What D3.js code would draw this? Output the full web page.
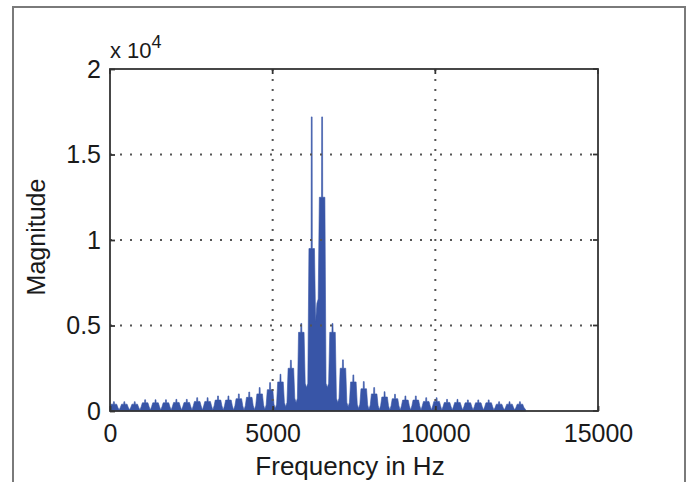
<!DOCTYPE html>
<html><head><meta charset="utf-8">
<script src="https://cdn.jsdelivr.net/npm/d3@7"></script>
<style>
body{margin:0;background:#fff}
text{font-family:"Liberation Sans",Arial,sans-serif;fill:#1a1a1a}
</style>
</head><body><svg id="c" width="693" height="482"></svg>
<script>
// ---- data ----
const lobeFreqs = [120,440,760,1080,1400,1720,2040,2360,2680,3000,3320,3640,3960,4280,4600,4920,5240,5560,5880,6200,
                   6520,6840,7160,7480,7800,8120,8440,8760,9080,9400,9720,10040,10360,10680,11000,11320,11640,11960,12280,12600];
const lobePeaks = [545,545,545,660,660,660,680,680,780,780,880,880,1000,1110,1370,1660,2150,2970,5120,17200,
                   17200,5120,2990,2110,1720,1370,1130,980,880,880,780,780,680,680,650,650,650,545,545,545];
const lobeBodies = [400,400,400,480,480,480,500,500,560,560,640,640,720,800,1000,1250,1700,2500,4600,9500,
                    12500,4600,2500,1700,1300,1000,820,720,640,640,560,560,500,500,480,480,480,400,400,400];
const valleyFreqs = [0,280,600,920,1240,1560,1880,2200,2520,2840,3160,3480,3800,4120,4440,4760,5080,5400,5720,6040,6360,
                     6680,7000,7320,7640,7960,8280,8600,8920,9240,9560,9880,10200,10520,10840,11160,11480,11800,12120,12440,12780];
const valleyLevels = [60,60,60,60,60,60,60,60,60,60,60,60,60,60,80,100,150,250,500,1370,6300,
                      1370,500,250,150,100,80,60,60,60,60,60,60,60,60,60,60,60,60,60,60];
const xTicks = [0,5000,10000,15000];
const xTickLabels = ["0","5000","10000","15000"];
const yTicks = [0,5000,10000,15000,20000];
const yTickLabels = ["0","0.5","1","1.5","2"];
const gridX = [5000,10000];
const gridY = [5000,10000,15000];
const xTitle = "Frequency in Hz";
const yTitle = "Magnitude";
const expBase = "x 10", expPower = "4";

// ---- layout ----
const svg = d3.select("#c");
const L = 110, R = 598, T = 69, B = 411;
const x = d3.scaleLinear().domain([0,15000]).range([L,R]);
const y = d3.scaleLinear().domain([0,20000]).range([B,T]);

// outer figure frame
svg.append("rect").attr("x",13).attr("y",7).attr("width",672).attr("height",500)
  .attr("fill","#fff").attr("stroke","#7a7a7a").attr("stroke-width",2);
svg.append("rect").attr("x",L).attr("y",T).attr("width",R-L).attr("height",B-T).attr("fill","#fff");

// spectrum outline points (each lobe: steep-sided body with a thin spike on top)
const pts = [];
lobeFreqs.forEach((f,k)=>{
  const b = lobeBodies[k], p = lobePeaks[k];
  const lo = valleyFreqs[k], hi = valleyFreqs[k+1];
  const shL = Math.min(b*0.55, valleyLevels[k] + 250);
  const shR = Math.min(b*0.55, valleyLevels[k+1] + 250);
  pts.push([lo, valleyLevels[k]]);
  pts.push([Math.max(lo, f-120), shL]);
  pts.push([Math.max(lo, f-85), b]);
  pts.push([f-18, b]);
  pts.push([f-13, p]);
  pts.push([f+13, p]);
  pts.push([f+18, b]);
  pts.push([Math.min(hi, f+85), b]);
  pts.push([Math.min(hi, f+120), shR]);
});
pts.push([valleyFreqs[valleyFreqs.length-1], valleyLevels[valleyLevels.length-1]]);

const area = d3.area().x(d=>x(d[0])).y0(y(0)).y1(d=>y(d[1]));
svg.append("path").datum(pts).attr("d",area).attr("fill","#3855a7")
  .attr("stroke","#3855a7").attr("stroke-width",0.6);

// grid (dotted, on top)
const g = svg.append("g").attr("stroke","#555").attr("stroke-width",2).attr("stroke-dasharray","2 8");
gridX.forEach(v=>g.append("line").attr("x1",x(v)).attr("x2",x(v)).attr("y1",B).attr("y2",T));
gridY.forEach(v=>g.append("line").attr("x1",L).attr("x2",R).attr("y1",y(v)).attr("y2",y(v)));

// axes via d3 (labels), ticks inward
const ax = svg.append("g").attr("transform",`translate(0,${B})`)
  .call(d3.axisBottom(x).tickValues(xTicks).tickFormat((d,i)=>xTickLabels[i]).tickSizeInner(-5).tickSizeOuter(0).tickPadding(13));
const ay = svg.append("g").attr("transform",`translate(${L},0)`)
  .call(d3.axisLeft(y).tickValues(yTicks).tickFormat((d,i)=>yTickLabels[i]).tickSizeInner(-5).tickSizeOuter(0).tickPadding(9));
[ax,ay].forEach(a=>{
  a.select(".domain").remove();
  a.selectAll(".tick line").attr("stroke","#333").attr("stroke-width",1.8);
  a.selectAll("text").attr("font-size",25).attr("fill","#1a1a1a").attr("font-family","Liberation Sans, Arial, sans-serif");
});
// mirrored ticks top/right
const mt = svg.append("g").attr("stroke","#333").attr("stroke-width",1.8);
xTicks.forEach(v=>mt.append("line").attr("x1",x(v)).attr("x2",x(v)).attr("y1",T).attr("y2",T+5));
yTicks.forEach(v=>mt.append("line").attr("x1",R).attr("x2",R-5).attr("y1",y(v)).attr("y2",y(v)));

// box
svg.append("rect").attr("x",L).attr("y",T).attr("width",R-L).attr("height",B-T)
  .attr("fill","none").attr("stroke","#333").attr("stroke-width",1.8);

// exponent
const ex = svg.append("text").attr("x",L).attr("y",58).attr("font-size",22);
ex.append("tspan").text(expBase);
ex.append("tspan").attr("dy",-10).attr("font-size",18).text(expPower);

// titles
svg.append("text").attr("x",(L+R)/2 - 4).attr("y",475).attr("text-anchor","middle").attr("font-size",26).text(xTitle);
svg.append("text").attr("transform",`translate(45,${(T+B)/2 - 3}) rotate(-90)`).attr("text-anchor","middle").attr("font-size",25).text(yTitle);
</script></body></html>
